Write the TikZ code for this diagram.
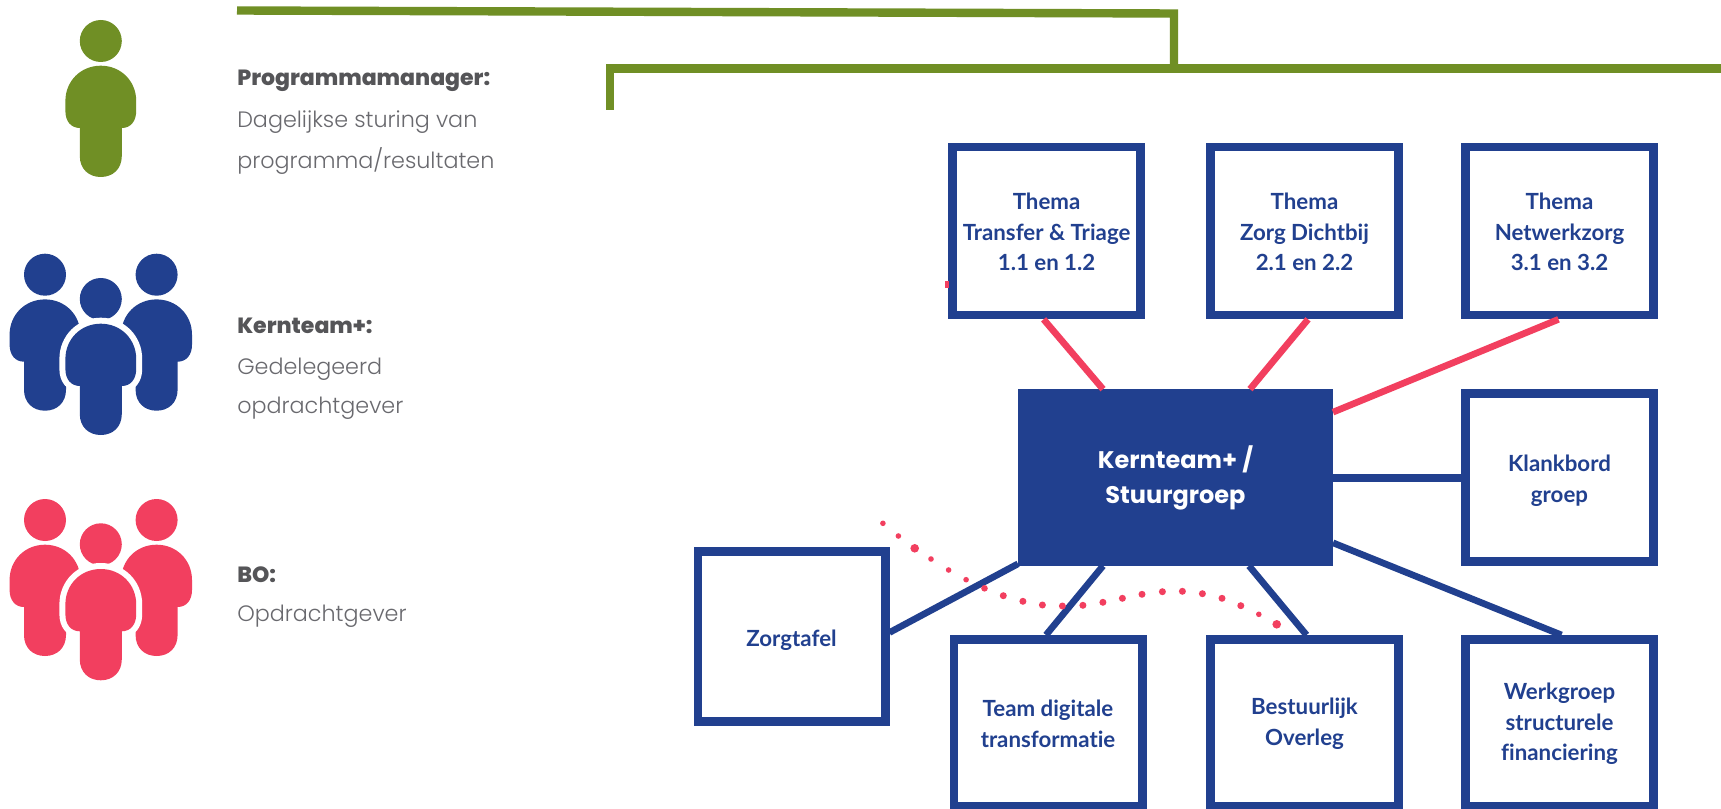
\documentclass[tikz,border=0pt]{standalone}
\usepackage{fontspec}
\setmainfont{Lato}[Ligatures=NoCommon]
\newfontfamily\headf{Poppins}[UprightFont=* ExtraBold]
\newfontfamily\coref{Poppins}[UprightFont=* Bold]
\newfontfamily\lightf{Poppins}[UprightFont=* Light]
\usetikzlibrary{calc}
\definecolor{pgreen}{RGB}{112,143,37}
\definecolor{pblue}{RGB}{33,64,143}
\definecolor{pred}{RGB}{242,63,95}
\definecolor{pdark}{RGB}{85,85,88}
\definecolor{plight}{RGB}{105,105,110}
\newcommand{\lw}{\rule{0pt}{14pt}}
\newcommand{\lx}{\rule{0pt}{17pt}}
\tikzset{
  px/.style={x=0.75pt,y=-0.75pt},
  boxnode/.style={draw=pblue,line width=6.5pt,fill=white,inner sep=0pt,outer sep=3.25pt,align=center,text=pblue,font=\fontsize{16.7}{23}\selectfont\bfseries},
  topbox/.style={boxnode,minimum width=141.25pt,minimum height=126pt},
  botbox/.style={boxnode,minimum width=141.25pt,minimum height=125.5pt},
  corebox/.style={fill=pblue,inner sep=0pt,outer sep=0pt,align=center,text=white,minimum width=236.25pt,minimum height=132.5pt,font=\coref\fontsize{18}{26.5}\selectfont},
  redline/.style={draw=pred,line width=5pt},
  blueline/.style={draw=pblue,line width=5pt},
  greenline/.style={draw=pgreen,line width=6.3pt},
  legendhead/.style={anchor=west,inner sep=0pt,text=pdark,font=\headf\fontsize{16.5}{18}\selectfont},
  legendtext/.style={anchor=west,inner sep=0pt,text=plight,font=\lightf\fontsize{16.7}{18}\selectfont},
}
\newcommand{\bodypath}{(-21,115) -- (-21,87) .. controls (-30,87) and (-35.4,80) .. (-35.4,70) -- (-35.4,60) .. controls (-35.4,40) and (-20,24.7) .. (0,24.7) .. controls (20,24.7) and (35.4,40) .. (35.4,60) -- (35.4,70) .. controls (35.4,80) and (30,87) .. (21,87) -- (21,115) .. controls (21,128) and (12,136) .. (0,136) .. controls (-12,136) and (-21,128) .. (-21,115) -- cycle}
\newcommand{\figperson}[3]{\begin{scope}[shift={(#1,#2)}]
  \fill[#3] (0,0) ellipse [x radius=21,y radius=21];
  \fill[#3] \bodypath;
\end{scope}}
\newcommand{\figfront}[3]{\begin{scope}[shift={(#1,#2)}]
  \fill[#3] (0,0) ellipse [x radius=21,y radius=21];
  \draw[white,line width=9pt,line join=round] \bodypath;
  \fill[#3] \bodypath;
\end{scope}}
\begin{document}
\begin{tikzpicture}[px]
\useasboundingbox (0,0) rectangle (1721,809);
\fill[white] (0,0) rectangle (1721,809);
% green rules
\coordinate (ga) at (237,10.5);
\coordinate (gb) at (1174,13.5);
\coordinate (gc) at (1174,68.5);
\coordinate (gd) at (610,68.5);
\coordinate (ge) at (610,110);
\coordinate (gf) at (1721,68.5);
\draw[greenline,line join=miter] (ga) -- (gb) -- (gc);
\draw[greenline,line join=miter] (ge) -- (gd) -- (gf);
% legend figures
\figperson{100.8}{41}{pgreen}
\figperson{45}{274.7}{pblue}
\figperson{156.6}{274.7}{pblue}
\figfront{100.8}{299}{pblue}
\figperson{45}{520}{pred}
\figperson{156.6}{520}{pred}
\figfront{100.8}{544.3}{pred}
% legend text
\node[legendhead] (l1) at (237,81) {Programmamanager:};
\node[legendtext] (l2) at (237,122) {Dagelijkse sturing van};
\node[legendtext] (l3) at (237,161) {programma/resultaten};
\node[legendhead] (l4) at (237,326) {Kernteam+:};
\node[legendtext] (l5) at (237,369) {Gedelegeerd};
\node[legendtext] (l6) at (237,408) {opdrachtgever};
\node[legendhead] (l7) at (237,575) {BO:};
\node[legendtext] (l8) at (237,616) {Opdrachtgever};
% boxes
\node[corebox] (core) at (1175.5,477.5) {\rule{0pt}{18pt}Kernteam+ /\\Stuurgroep};
\node[topbox] (t1) at (1046.6,231) {\lw Thema\\Transfer \& Triage\\1.1 en 1.2};
\node[topbox] (t2) at (1304.5,231) {\lw Thema\\Zorg Dichtbij\\2.1 en 2.2};
\node[topbox] (t3) at (1559.5,231) {\lw Thema\\Netwerkzorg\\3.1 en 3.2};
\node[topbox] (kb) at (1559.5,477.5) {\lx Klankbord\\groep};
\node[boxnode,minimum width=140.5pt,minimum height=127.5pt] (zt) at (791.5,636.5) {\rule{0pt}{18pt}Zorgtafel};
\node[botbox] (dt) at (1048,723) {\lw Team digitale\\transformatie};
\node[botbox] (bo) at (1304.5,723) {\lw Bestuurlijk\\Overleg};
\node[botbox] (wg) at (1559.5,723) {\lw Werkgroep\\structurele\\financiering};
% connectors
\draw[redline] ($(t1.south)+(-3,0)$) -- ($(core.north west)+(85,0)$);
\draw[redline] ($(t2.south)+(3.5,0)$) -- ($(core.north west)+(232,0)$);
\draw[redline] ($(t3.south)+(-1,0)$) -- ($(core.north east)+(0,23)$);
\draw[blueline,line width=6pt] (core.east) -- (kb.west);
\draw[blueline] (core.south west) ++(0,-2) -- ($(zt.east)+(0,-4)$);
\draw[blueline] ($(core.south west)+(85,0)$) -- ($(dt.north)+(-2,0)$);
\draw[blueline] ($(core.south west)+(231,0)$) -- ($(bo.north)+(2,0)$);
\draw[blueline] ($(core.south east)+(0,-23)$) -- ($(wg.north)+(2,0)$);
% red stub
\fill[pred] (944.5,280.7) rectangle (948.7,288);
% dots
\foreach \dx/\dy/\dr in {882.9/523.3/2.8,898.4/536/2.8,914.7/548.3/4.3,931/559/2.8,948.6/570/2.8,966.1/579.7/2.8,984.5/588.3/3.3,1003.3/595.7/3.5,1022.9/601.3/3.5,1042.4/605/3.5,1062.4/606/3.5,1082.9/605.3/3.5,1102.9/602.3/3.5,1122.4/598.3/3.5,1142/594.3/3.5,1162.4/591.7/3.5,1182.4/591.3/3.5,1202.4/593.7/3.5,1222/598.3/3.5,1240.8/605.7/3.5,1258.8/614.3/2.8,1276.7/624.3/4.3}
  \fill[pred] (\dx,\dy) circle [radius=\dr];
\end{tikzpicture}
\end{document}
